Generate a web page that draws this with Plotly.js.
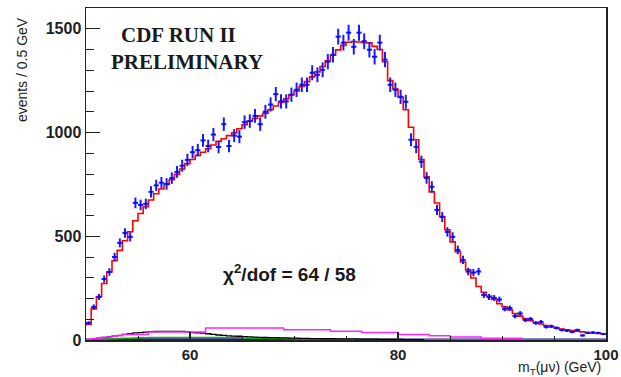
<!DOCTYPE html>
<html><head><meta charset="utf-8">
<script src="https://cdn.plot.ly/plotly-3.0.1.min.js"></script>
<style>html,body{margin:0;padding:0;background:#fff;}#chart{width:621px;height:377px;}</style>
</head><body><div id="chart"></div>
<script>
// Binning: 0.5 GeV bins from 50 to 100 GeV
const binStart = 50;
const binWidth = 0.5;

// Data (events per bin)
const dataCounts = [
  82,159,207,294,328,400,468,516,497,661,
  651,656,714,745,758,752,780,810,840,868,
  905,915,962,935,990,930,1040,935,985,980,
  1050,1055,1080,1040,1100,1135,1185,1150,1150,1182,
  1206,1230,1230,1288,1278,1302,1341,1375,1462,1433,
  1481,1413,1481,1440,1399,1365,1433,1351,1230,1206,
  1172,1148,965,931,859,781,738,627,593,521,
  497,434,386,330,325,330,217,207,203,195,
  150,154,115,128,96,101,82,87,63,66,
  58,48,45,39,48,22,34,36,34,29
];

// Total model prediction (red)
const modelTotal = [
  75,150,210,272,328,382,432,478,522,575,
  610,642,675,705,728,750,772,798,824,850,
  870,890,905,922,940,957,970,985,998,1018,
  1037,1055,1068,1080,1093,1110,1128,1145,1162,1182,
  1200,1222,1245,1268,1292,1318,1345,1372,1398,1420,
  1435,1438,1436,1434,1432,1415,1400,1341,1250,1210,
  1170,1110,1025,965,870,786,714,660,595,531,
  473,425,376,338,299,258,230,212,196,175,
  160,145,128,115,103,93,84,77,70,64,
  58,53,49,45,42,39,36,34,32,30
];

// Background components
const bkgMagenta = [
  3,6,9,12,15,18,21,
  27,27,27,27,27,
  39,39,39,39,39,39,39,39,39,39,39,
  58,58,58,58,58,58,58,58,58,58,58,58,58,58,58,
  50,50,50,50,50,50,50,50,50,
  42,42,42,42,42,42,
  36,36,36,36,36,36,36,
  27,27,27,27,27,27,
  20,20,20,20,
  14,14,14,14,14,14,
  9,9,9,9,9,9,9,9
];
const bkgBlack = [
  3,6,9,12,15,18,22,27,31,34,
  36,38,40,41,42,42,42,42,42,40,
  36,35,33,30,27,24,22,20,19,18,
  16,15,14,13,12,11,11,10,10,9,
  9,8,8,7,7,6,6,6,5,5,
  5,5,4,4,4,4,3,3,3,3,3,2,2,2,2
];
const bkgGreen = [
  1,2,3,4,5,6,7,8,9,10,
  11,11,12,12,12,12,12,12,12,12,
  12,12,12,12,12,12,12,12,12,12,
  9,9,8,8,8,7,7,7,6,6,
  5,5,5,4,4,4,4,3,3,3,
  2,2,2,2,2,2,2,2,2,2,
  1,1,1,1,1,1,1,1,1,1,
  1,1,1,1,1,1,1,1,1,1,
  1,1,1,1,1,1,1,1,1,1,
  1,1,1,1,1,1,1,1,1,1
];
const bkgNavy = [
  1,1,2,2,3,3,4,4,4,4,
  4,4,4,4,4,4,4,4,4,4,
  4,4,4,4,4,4,4,4,4,4,
  4,4,4,4,4,4,4,4,4,4,
  4,4,4,4,3,3,2,2,2,2,
  2,2,2,2,2,2,2,2,2,2,
  2,2,2,2,2,2,2,2,2,2,
  2,2,2,2,2,2,2,2,2,2,
  2,2,2,2,2,2,2,2,2,2,
  2,2,2,2,2,2,2,2,2,2
];

// bin centres and step-histogram helpers
const centers = dataCounts.map((_, i) => binStart + binWidth * (i + 0.5));
function stepTrace(vals, color, width) {
  const xs = [], ys = [];
  for (let i = 0; i < vals.length; i++) { xs.push(binStart + binWidth * i); ys.push(vals[i]); }
  xs.push(binStart + binWidth * vals.length); ys.push(vals[vals.length - 1]);
  return {x: xs, y: ys, type: 'scatter', mode: 'lines',
          line: {shape: 'hv', color: color, width: width},
          hoverinfo: 'skip', showlegend: false};
}

const traces = [
  stepTrace(bkgNavy, '#1a1a8c', 2),
  stepTrace(bkgGreen, '#1fa01f', 1.5),
  stepTrace(bkgBlack, '#000000', 1.3),
  stepTrace(bkgMagenta, '#ff22ff', 1.5),
  stepTrace(modelTotal, '#ff0000', 1.6),
  {
    x: centers, y: dataCounts, type: 'scatter', mode: 'markers',
    marker: {size: 2, color: '#0000ff'},
    error_y: {type: 'sqrt', visible: true, color: '#1a1aff', thickness: 2, width: 0},
    error_x: {type: 'constant', value: binWidth / 2, visible: true, color: '#1a1aff', thickness: 2, width: 0},
    showlegend: false, hoverinfo: 'skip'
  }
];

const tickFontY = {family: 'Liberation Sans, Arial, sans-serif', size: 16, color: '#222', weight: 'bold'};
const tickFontX = {family: 'Liberation Sans, Arial, sans-serif', size: 15, color: '#222', weight: 'bold'};

const layout = {
  width: 621, height: 377,
  margin: {l: 86, r: 15, t: 8, b: 37},
  paper_bgcolor: '#ffffff', plot_bgcolor: '#ffffff',
  showlegend: false,
  xaxis: {
    range: [50, 100], tickvals: [60, 80, 100], ticktext: ['60', '80', '100'],
    ticks: 'inside', ticklen: 8, tickwidth: 1.2, tickcolor: '#222',
    minor: {dtick: 5, tick0: 50, ticks: 'inside', ticklen: 4, tickcolor: '#222', tickwidth: 1},
    showline: true, linecolor: '#222', linewidth: 1.5, mirror: true,
    showgrid: false, zeroline: false, tickfont: tickFontX
  },
  yaxis: {
    range: [0, 1600], tickvals: [0, 500, 1000, 1500],
    ticks: 'inside', ticklen: 14, tickwidth: 1.2, tickcolor: '#222',
    minor: {dtick: 100, ticks: 'inside', ticklen: 8, tickcolor: '#222', tickwidth: 1},
    showline: true, linecolor: '#222', linewidth: 1.5, mirror: true,
    showgrid: false, zeroline: false, tickfont: tickFontY
  },
  annotations: [
    {text: 'events / 0.5 GeV', xref: 'paper', yref: 'paper', x: -0.123, y: 0.813,
     xanchor: 'center', yanchor: 'middle', textangle: -90, showarrow: false,
     font: {family: 'Liberation Sans, Arial, sans-serif', size: 14, color: '#222'}},
    {text: 'm<sub>T</sub>(\u03bc\u03bd) (GeV)', xref: 'paper', yref: 'paper', x: 0.995, y: -0.084,
     xanchor: 'right', yanchor: 'middle', showarrow: false,
     font: {family: 'Liberation Sans, Arial, sans-serif', size: 14, color: '#222'}},
    {text: '<b>CDF RUN II</b>', xref: 'paper', yref: 'paper', x: 0.177, y: 0.919,
     xanchor: 'center', yanchor: 'middle', showarrow: false,
     font: {family: 'Liberation Serif, Times New Roman, serif', size: 21, color: '#1a1a1a'}},
    {text: '<b>PRELIMINARY</b>', xref: 'paper', yref: 'paper', x: 0.194, y: 0.837,
     xanchor: 'center', yanchor: 'middle', showarrow: false,
     font: {family: 'Liberation Serif, Times New Roman, serif', size: 21, color: '#1a1a1a'}},
    {text: '<b>\u03c7<sup>2</sup>/dof = 64 / 58</b>', xref: 'paper', yref: 'paper', x: 0.26, y: 0.202,
     xanchor: 'left', yanchor: 'middle', showarrow: false,
     font: {family: 'Liberation Sans, Arial, sans-serif', size: 19, color: '#1a1a1a'}}
  ]
};

Plotly.newPlot('chart', traces, layout, {staticPlot: true, displayModeBar: false});
</script></body></html>
